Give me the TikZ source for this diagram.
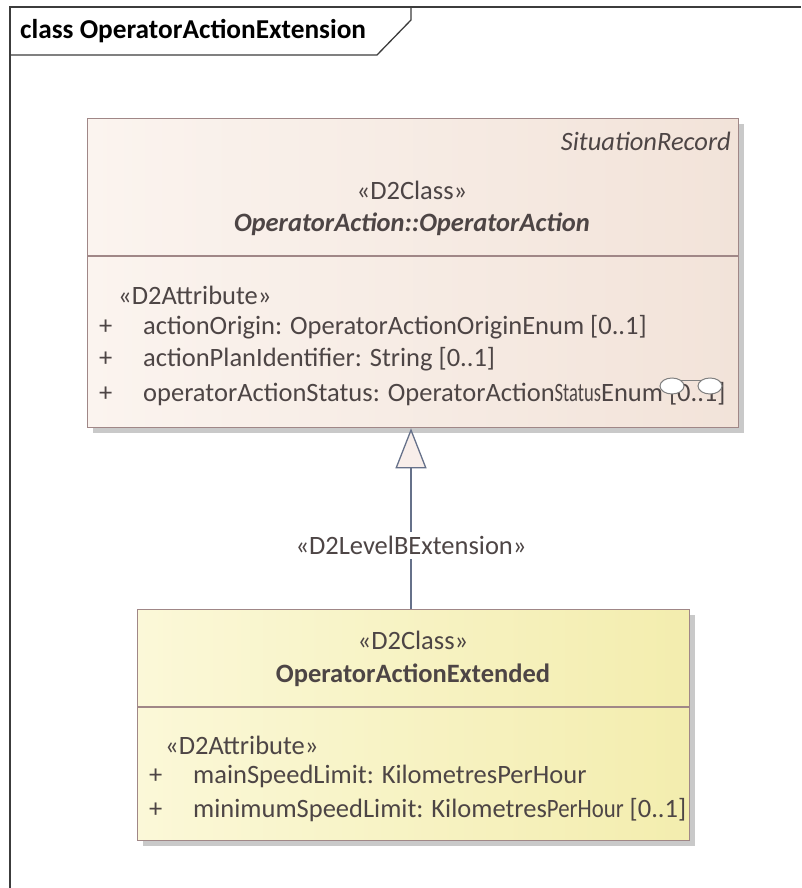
\documentclass[tikz,border=0pt]{standalone}
\usepackage{graphicx}
\usepackage{fontspec}
\setmainfont{Carlito}
\usetikzlibrary{arrows.meta}
\definecolor{frameC}{HTML}{3C3C3C}
\definecolor{txtC}{HTML}{4D4545}
\definecolor{bordC}{HTML}{A08787}
\definecolor{shadowC}{HTML}{C9C9C9}
\definecolor{pinkL}{HTML}{FBF4EF}
\definecolor{pinkR}{HTML}{F2E3D9}
\definecolor{yelL}{HTML}{FBF8D8}
\definecolor{yelR}{HTML}{F3EDAE}
\definecolor{lineC}{HTML}{66718A}
\definecolor{tipC}{HTML}{F8EEEA}
\tikzset{
  classbox/.style={draw=bordC, line width=1.3pt, rectangle, anchor=north west, inner sep=0pt},
  txt/.style={text=txtC, font=\fontsize{26.5}{30}\selectfont, inner sep=0pt},
  plus/.style={txt, anchor=west},
  attr/.style={txt, anchor=west},
  gen/.style={draw=lineC, line width=1.3pt, -{Triangle[open, length=40pt, width=31pt, fill=tipC]}},
}
\begin{document}
\begin{tikzpicture}[x=1pt,y=-1pt]
\useasboundingbox (0,0) rectangle (801,888);
% frame
\draw[frameC, line width=1.3pt] (10,888) -- (10,7) -- (801,7);
\draw[frameC, line width=1.3pt] (10,55) -- (377,55) -- (411,20) -- (411,7);
\node[anchor=west, inner sep=0pt, text=black, font=\fontsize{27.3}{30}\bfseries\selectfont] (title) at (20,31) {class OperatorActionExtension};

% ---- class OperatorAction
\fill[shadowC] (93,124) rectangle (744,433);
\node[classbox, minimum width=651pt, minimum height=309pt, left color=pinkL, right color=pinkR] (rec) at (87,118) {};
\draw[bordC, line width=1.3pt] (87,256) -- (738,256);
\node[txt, anchor=east, font=\fontsize{26.5}{30}\itshape\selectfont] (rsit) at (731,141) {SituationRecord};
\node[txt] (rst) at (412,190) {«D2Class»};
\node[txt, font=\fontsize{26.5}{30}\bfseries\itshape\selectfont] (rname) at (412,224) {OperatorAction::OperatorAction};
\node[attr] (rattr) at (118,295) {«D2Attribute»};
\node[plus] (rp1) at (99,327) {+};
\node[attr] (ra1) at (143,327) {actionOrigin: OperatorActionOriginEnum [0..1]};
\node[plus] (rp2) at (99,359) {+};
\node[attr] (ra2) at (143,359) {actionPlanIdentifier: String [0..1]};
\node[plus] (rp3) at (99,394) {+};
\node[attr] (ra3) at (143,394) {operatorActionStatus: OperatorAction\scalebox{0.7}[1]{Status}Enum [0..1]};
% glasses icon
\draw[gray, line width=1pt] (680,380) -- (702,380);
\draw[gray, line width=1pt, fill=white] (672,386) ellipse [x radius=12pt, y radius=8pt];
\draw[gray, line width=1pt, fill=white] (710,386) ellipse [x radius=12pt, y radius=8pt];

% ---- class OperatorActionExtended
\fill[shadowC] (143,615) rectangle (695,846);
\node[classbox, minimum width=552pt, minimum height=231pt, left color=yelL, right color=yelR] (ext) at (137,609) {};
\draw[bordC, line width=1.3pt] (137,707) -- (689,707);
\node[txt] (est) at (413,640) {«D2Class»};
\node[txt, font=\fontsize{26.5}{30}\bfseries\selectfont] (ename) at (413,675) {OperatorActionExtended};
\node[attr] (eattr) at (165,745) {«D2Attribute»};
\node[plus] (ep1) at (149,776) {+};
\node[attr] (ea1) at (193,776) {mainSpeedLimit: KilometresPerHour};
\node[plus] (ep2) at (149,810) {+};
\node[attr] (ea2) at (193,810) {minimumSpeedLimit: Kilometres\scalebox{0.86}[1]{PerHour} [0..1]};

% ---- generalization
\draw[gen] (ext.north -| 411,0) -- (rec.south -| 411,0)
  node[pos=0.35, fill=white, inner sep=4pt, text=txtC, font=\fontsize{26.5}{30}\selectfont] (lbl) {«D2LevelBExtension»};
\end{tikzpicture}
\end{document}
